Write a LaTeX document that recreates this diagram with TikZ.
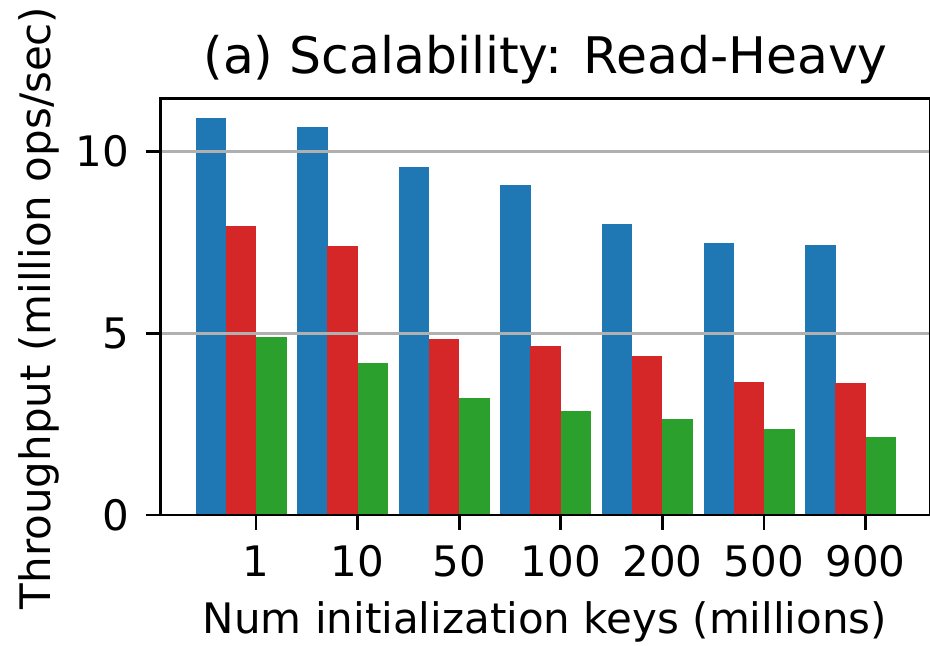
\documentclass[tikz,border=0pt]{standalone}
\usepackage{fontspec}
\setmainfont{DejaVu Sans}
\definecolor{tabblue}{HTML}{1F77B4}
\definecolor{tabred}{HTML}{D62728}
\definecolor{tabgreen}{HTML}{2CA02C}
\definecolor{gridgray}{HTML}{B0B0B0}

\begin{document}
\begin{tikzpicture}[
      x=0.75pt, y=0.75pt,
      font=\fontsize{31.5}{36}\selectfont,
      spine/.style={line width=2pt, black},
      tickmark/.style={line width=2pt, black},
      gridline/.style={line width=2pt, gridgray},
      ticklabel/.style={inner sep=0pt},
      axlabel/.style={inner sep=0pt},
      titlelabel/.style={inner sep=0pt, font=\fontsize{37.8}{44}\selectfont} ]

    \useasboundingbox (0,0) rectangle (930,645);

    % bars: blue / red / green per group
    \foreach \b/\r/\g [count=\i from 0] in {10.92/7.96/4.91, 10.67/7.40/4.18,
        9.58/4.85/3.21, 9.07/4.66/2.87, 8.01/4.38/2.65, 7.48/3.65/2.37, 7.43/3.63/2.15} {
      \fill[tabblue]  ({195.5+101.6*\i},130) rectangle ++(30.5,{36.33*\b});
      \fill[tabred]   ({225.5+101.6*\i},130) rectangle ++(30.5,{36.33*\r});
      \fill[tabgreen] ({256+101.6*\i},130)   rectangle ++(30.5,{36.33*\g});
    }

    % grid
    \draw[gridline] (160.7,311.65) -- (930,311.65);
    \draw[gridline] (160.7,493.3)  -- (930,493.3);

    % frame
    \draw[spine] (160.7,130) rectangle (930,546.7);

    % y ticks
    \foreach \v in {0,5,10} {
      \draw[tickmark] (146,{130+36.33*\v}) -- (160.7,{130+36.33*\v});
      \node[ticklabel, anchor=east] (ytick\v) at (129.5,{130+36.33*\v}) {\v};
    }

    % x ticks
    \foreach \k [count=\i from 0] in {1,10,50,100,200,500,900} {
      \draw[tickmark] ({256+101.6*\i},130) -- ({256+101.6*\i},115);
      \node[ticklabel, anchor=base] (xtick\i) at ({256+101.6*\i},68.3) {\k};
    }

    \node[axlabel, anchor=base] (xlab) at (545,11.7) {Num initialization keys (millions)};
    \node[axlabel, anchor=base, rotate=90] (ylab) at (50,337) {Throughput (million ops/sec)};
    \node[titlelabel, anchor=base] (title) at (545.5,571.5) {(a) Scalability: Read-Heavy};
  \end{tikzpicture}
\end{document}
